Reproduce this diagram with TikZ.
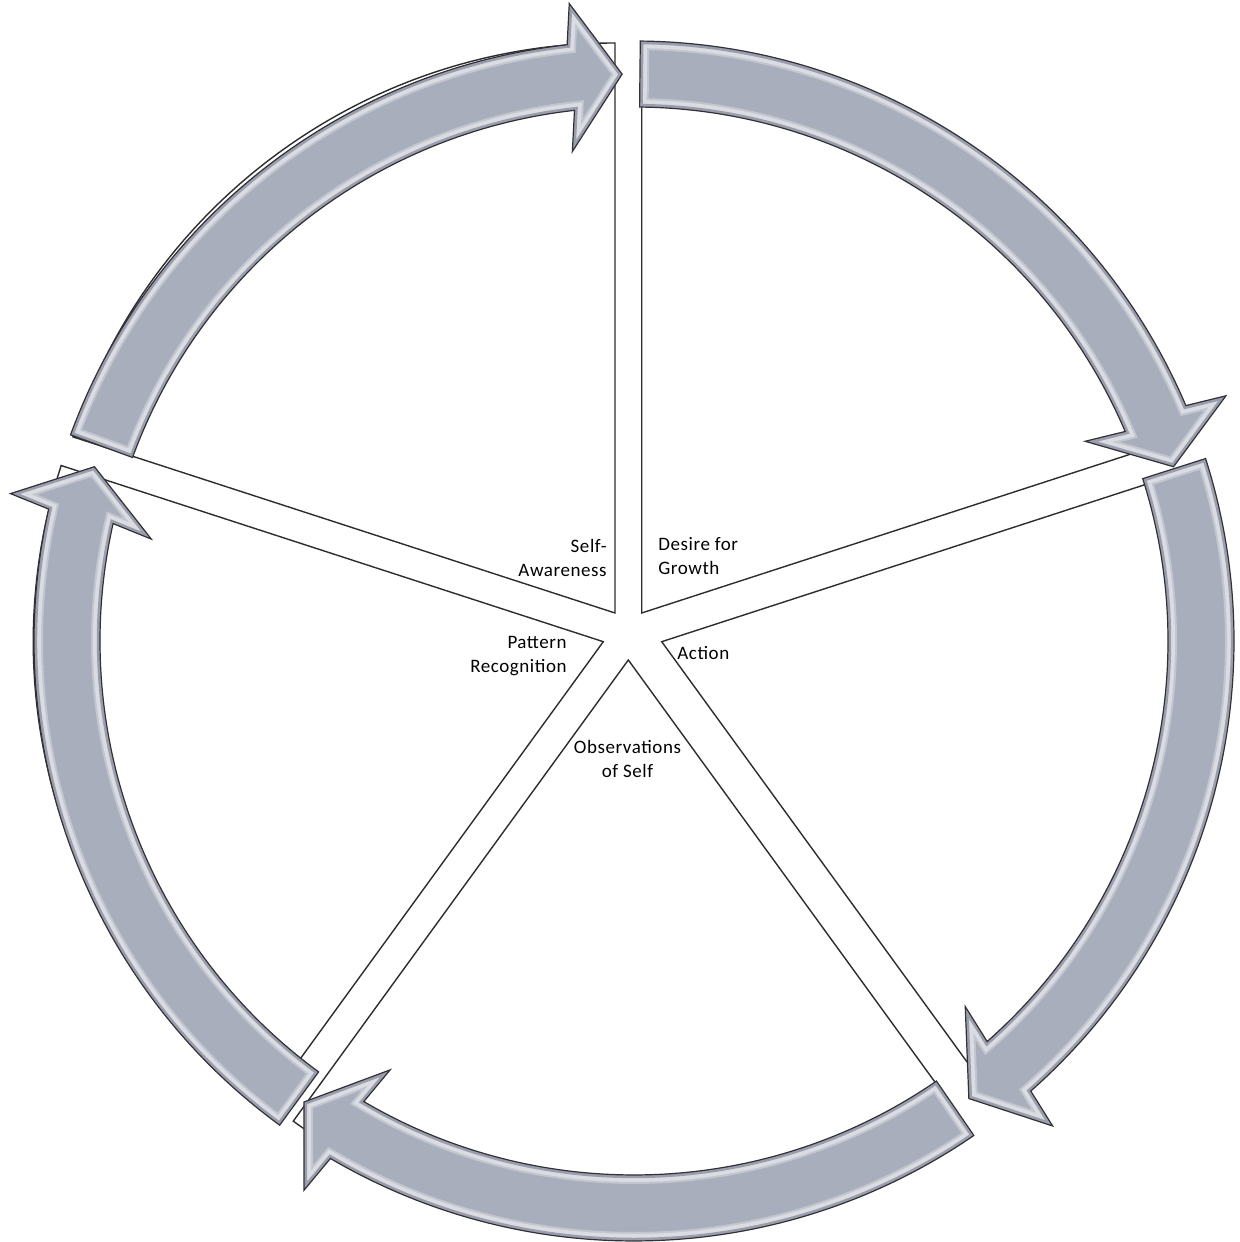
\documentclass[tikz,border=0pt]{standalone}
\usepackage{fontspec}
\newfontfamily\labfont[LetterSpace=3]{Carlito}
\usetikzlibrary{calc}
\definecolor{arrowfill}{RGB}{169,174,189}
\definecolor{arrowline}{RGB}{50,50,54}
\definecolor{wedgeline}{RGB}{45,45,45}
\tikzset{
  wedgebox/.style={draw=wedgeline, fill=white, line width=0.7pt, line join=miter},
  arrowedge/.style={draw=arrowline, line width=0.6pt, line join=miter},
  lab/.style={inner sep=0pt, font=\labfont\fontsize{9.5}{12}\selectfont}
}
\newcommand\cyclearrow[2]{%
  \pgfmathsetmacro\tb{#2+5.2}%
  \coordinate (Cn) at (634,601);
  \coordinate (Tp) at ({634+567*cos(#2)},{601+567*sin(#2)});
  \coordinate (Bo) at ({634+567*cos(\tb)+74*cos(#2)},{601+567*sin(\tb)+74*sin(#2)});
  \coordinate (Bi) at ({634+567*cos(\tb)-74*cos(#2)},{601+567*sin(\tb)-74*sin(#2)});
  \coordinate (Ao) at ([shift={(#1:600)}]Cn);
  \coordinate (Ai) at ([shift={(\tb:534)}]Cn);
  \def\arrowp{(Ao) arc[start angle=#1, end angle=\tb, radius=300pt] -- (Bo) -- (Tp) -- (Bi) -- (Ai) arc[start angle=\tb, end angle=#1, radius=267pt] -- cycle}%
  \fill[arrowfill] \arrowp;
  \begin{scope}
    \clip \arrowp;
    \draw[white, opacity=0.3, line width=9pt] \arrowp;
    \draw[white, opacity=0.4, line width=7pt] \arrowp;
    \draw[arrowfill!85!black!60!arrowfill, line width=3.2pt] \arrowp;
  \end{scope}
  \draw[arrowedge] \arrowp;
}
\begin{document}
\begin{tikzpicture}[x=0.5pt, y=0.5pt]
\fill[white] (0,0) rectangle (1239,1242);
\useasboundingbox (0,0) rectangle (1239,1242);
% wedges
\draw[wedgebox] (615,629) coordinate (wSelf) -- ++(90:570) arc[start angle=90, end angle=162, radius=285pt] -- cycle;
\draw[wedgebox] (641.7,629) coordinate (wDesire) -- ++(18:570) arc[start angle=18, end angle=90, radius=285pt] -- cycle;
\draw[wedgebox] (661.7,600.3) coordinate (wAction) -- ++(-54:570) arc[start angle=-54, end angle=18, radius=285pt] -- cycle;
\draw[wedgebox] (628.3,582) coordinate (wObs) -- ++(-126:570) arc[start angle=-126, end angle=-54, radius=285pt] -- cycle;
\draw[wedgebox] (603.3,600.3) coordinate (wPat) -- ++(162:570) arc[start angle=162, end angle=234, radius=285pt] -- cycle;
% arrows
\cyclearrow{159.9}{91.2}
\cyclearrow{89.4}{17.9}
\cyclearrow{17.7}{-53.8}
\cyclearrow{-55.5}{-125.6}
\cyclearrow{233.8}{162.1}
% labels
\node[lab, anchor=east, align=right] (tSelf) at (607,684.5) {Self-\\Awareness};
\node[lab, anchor=west, align=left] (tDesire) at (658,686) {Desire for\\Growth};
\node[lab, anchor=east, align=right] (tPat) at (567,585.5) {Pattern\\Recognition};
\node[lab, anchor=west] (tAction) at (677,589) {Action};
\node[lab, align=center] (tObs) at (627.5,483.5) {Observations\\of Self};
\end{tikzpicture}
\end{document}
